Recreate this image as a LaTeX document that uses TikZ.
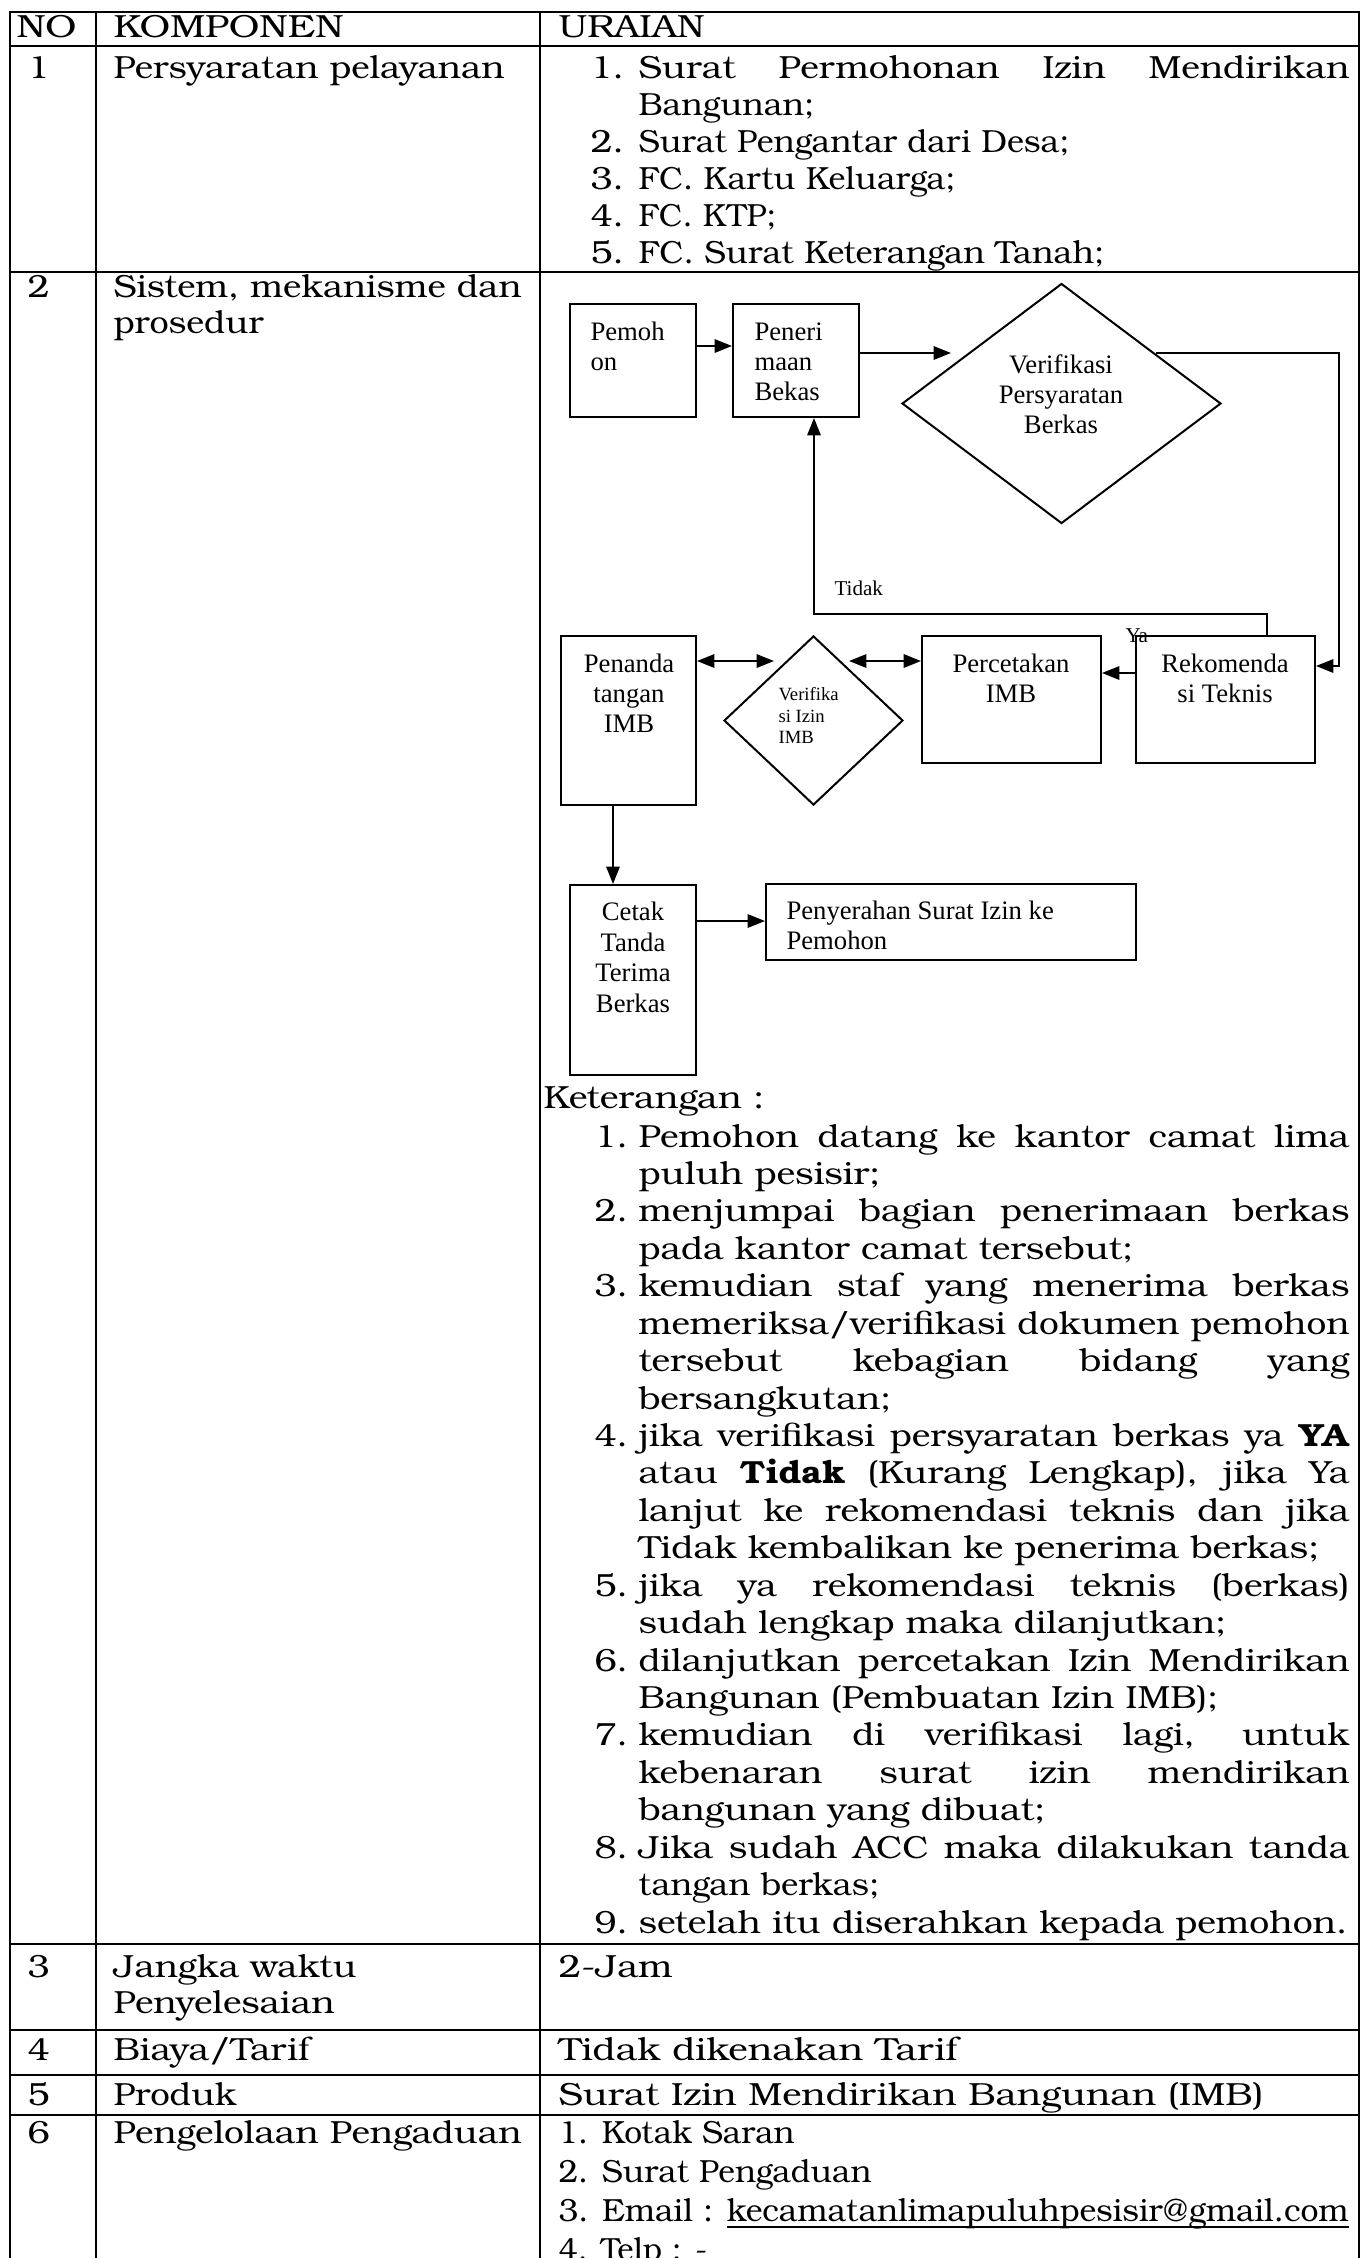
\documentclass[tikz,border=0pt]{standalone}
\usepackage{graphicx}
\usepackage{fontspec}
\setmainfont{texgyrebonum}[Extension=.otf,UprightFont=*-regular,BoldFont=*-bold,ItalicFont=*-italic,BoldItalicFont=*-bolditalic,FakeStretch=1.11]
\newfontfamily\tnr{Liberation Serif}
\usetikzlibrary{arrows.meta,shapes.geometric}
\tikzset{
  tab/.style={line width=1pt,line cap=rect},
  tx/.style={anchor=base west,inner sep=0pt,font=\fontsize{12}{14}\selectfont},
  box/.style={draw,line width=0.75pt,rectangle,inner sep=0pt},
  dia/.style={draw,line width=0.75pt,diamond,inner sep=0pt},
  fl/.style={anchor=base west,inner sep=0pt,font=\tnr\fontsize{10}{12}\selectfont},
  flc/.style={anchor=base,inner sep=0pt,font=\tnr\fontsize{10}{12}\selectfont},
  fls/.style={anchor=base west,inner sep=0pt,font=\tnr\fontsize{7}{8}\selectfont},
  lbl/.style={anchor=base west,inner sep=0pt,font=\tnr\fontsize{7.9}{9}\selectfont},
  arr/.style={line width=0.75pt,-{Triangle[length=6.5pt,width=5pt]}},
  darr/.style={line width=0.75pt,{Triangle[length=6.5pt,width=5pt]}-{Triangle[length=6.5pt,width=5pt]}},
}
\newdimen\pxu \pxu=0.375pt
\newdimen\jwid \jwid=266.625pt
\newcommand\JLine[1]{\setbox0\hbox{#1}\ifdim\wd0>\jwid\resizebox{\jwid}{\height}{\box0}\else\hbox to\jwid{#1}\fi}
\newcommand\TXT[4]{\node[tx] (#1) at (#2,#3) {#4};}
\newcommand\TW[5]{\node[tx] (#1) at (#2,#3) {\resizebox{#4\pxu}{\height}{#5}};}
\newcommand\JTX[4]{\node[tx] (#1) at (#2,#3) {\JLine{#4}};}
\newcommand\ulx[1]{\setbox2\hbox{#1}\rlap{\rule[-2.6pt]{\wd2}{0.6pt}}\box2}
\begin{document}
\begin{tikzpicture}[x=0.375pt,y=-0.375pt]
\useasboundingbox (0,0) rectangle (1364,2258);
\fill[white] (0,0) rectangle (1364,2258);
% table grid
\foreach \yy in {12,46,272,1944,2030,2075,2115} \draw[tab] (10,\yy) -- (1359,\yy);
\foreach \xx in {10,96,540,1359} \draw[tab] (\xx,12) -- (\xx,2258);
% header
\TW{h1}{16}{37}{60}{NO}
\TW{h2}{113}{37}{230}{KOMPONEN}
\TW{h3}{558}{37}{146}{URAIAN}
% row 1
\TXT{n1}{27}{78}{1}
\TW{k1}{113}{78}{391}{Persyaratan pelayanan}
\TXT{a1n}{590}{78}{1.}
\JTX{a1}{638}{78}{Surat Permohonan Izin Mendirikan}
\TW{a1b}{638}{115}{176}{Bangunan;}
\TXT{a2n}{590}{152}{2.}
\TW{a2}{638}{152}{431}{Surat Pengantar dari Desa;}
\TXT{a3n}{590}{189}{3.}
\TW{a3}{638}{189}{317}{FC. Kartu Keluarga;}
\TXT{a4n}{590}{226}{4.}
\TW{a4}{638}{226}{138}{FC. KTP;}
\TXT{a5n}{590}{263}{5.}
\TW{a5}{638}{263}{466}{FC. Surat Keterangan Tanah;}
% row 2
\TXT{n2}{27}{297}{2}
\TW{k2a}{113}{297}{408}{Sistem, mekanisme dan}
\TW{k2b}{113}{333}{150}{prosedur}
% flowchart boxes
\node[box,minimum width=47.25pt,minimum height=42.375pt] (pemohon) at (633,360.5) {};
\node[box,minimum width=47.25pt,minimum height=42.375pt] (penerima) at (796,360.5) {};
\node[dia,minimum width=119.6pt,minimum height=90pt] (verif) at (1061.5,403.5) {};
\node[box,minimum width=67.1pt,minimum height=47.6pt] (rekom) at (1225.5,699.5) {};
\node[box,minimum width=67.1pt,minimum height=47.6pt] (perc) at (1011.5,699.5) {};
\node[dia,minimum width=67.1pt,minimum height=63.4pt] (verif2) at (813.5,720.5) {};
\node[box,minimum width=50.6pt,minimum height=63.4pt] (penanda) at (628.5,720.5) {};
\node[box,minimum width=47.25pt,minimum height=71.25pt] (cetak) at (633,980) {};
\node[box,minimum width=138.75pt,minimum height=28.5pt] (penyer) at (951,922) {};
% helper coordinates
\coordinate (y346) at (0,346);
\coordinate (t1) at (951,353);
\coordinate (l1) at (1156,353);
\coordinate (l2) at (1339,353);
\coordinate (l3) at (1339,666);
\coordinate (y673) at (0,673);
\coordinate (td1) at (1267,614);
\coordinate (td2) at (814,614);
\coordinate (d1) at (849,661);
\coordinate (d2) at (774,661);
\coordinate (x613) at (613,0);
\coordinate (y921) at (0,921);
% connectors
\draw[arr] (pemohon.east |- y346) -- (penerima.west |- y346);
\draw[arr] (penerima.east |- t1) -- (t1);
\draw[arr] (l1) -- (l2) -- (l3) -- (rekom.east |- l3);
\draw[arr] (rekom.west |- y673) -- (perc.east |- y673);
\draw[arr] (rekom.north -| td1) -- (td1) -- (td2) -- (penerima.south -| td2);
\draw[darr] (d1) -- (perc.west |- d1);
\draw[darr] (penanda.east |- d2) -- (d2);
\draw[arr] (penanda.south -| x613) -- (cetak.north -| x613);
\draw[arr] (cetak.east |- y921) -- (penyer.west |- y921);
% flowchart texts
\node[fl] (tp1) at (590,340) {Pemoh};
\node[fl] (tp2) at (590,370) {on};
\node[fl] (tq1) at (754,340) {Peneri};
\node[fl] (tq2) at (754,370) {maan};
\node[fl] (tq3) at (754,400) {Bekas};
\node[flc] (tv1) at (1061,373) {Verifikasi};
\node[flc] (tv2) at (1061,403) {Persyaratan};
\node[flc] (tv3) at (1061,433) {Berkas};
\node[flc] (tc1) at (1011,672) {Percetakan};
\node[flc] (tc2) at (1011,702) {IMB};
\node[flc] (tr1) at (1225,672) {Rekomenda};
\node[flc] (tr2) at (1225,702) {si Teknis};
\node[flc] (tn1) at (629,672) {Penanda};
\node[flc] (tn2) at (629,702) {tangan};
\node[flc] (tn3) at (629,732) {IMB};
\node[fls] (ts1) at (778,700) {Verifika};
\node[fls] (ts2) at (778,722) {si Izin};
\node[fls] (ts3) at (778,743) {IMB};
\node[flc] (te1) at (633,920) {Cetak};
\node[flc] (te2) at (633,951) {Tanda};
\node[flc] (te3) at (633,981) {Terima};
\node[flc] (te4) at (633,1012) {Berkas};
\node[fl] (tf1) at (786,919) {Penyerahan Surat Izin ke};
\node[fl] (tf2) at (786,949) {Pemohon};
\node[lbl] (lt) at (834,595) {Tidak};
\node[lbl] (ly) at (1125,642) {Ya};
% keterangan
\TW{ket}{543}{1108}{221}{Keterangan :}
\TXT{i1n}{594}{1147}{1.}
\JTX{i1a}{638}{1147}{Pemohon datang ke kantor camat lima}
\TW{i1b}{638}{1184.4}{242}{puluh pesisir;}
\TXT{i2n}{594}{1221.9}{2.}
\JTX{i2a}{638}{1221.9}{menjumpai bagian penerimaan berkas}
\TW{i2b}{638}{1259.3}{495}{pada kantor camat tersebut;}
\TXT{i3n}{594}{1296.7}{3.}
\JTX{i3a}{638}{1296.7}{kemudian staf yang menerima berkas}
\JTX{i3b}{638}{1334.2}{memeriksa/verifikasi dokumen pemohon}
\JTX{i3c}{638}{1371.6}{tersebut kebagian bidang yang}
\TW{i3d}{638}{1409}{253}{bersangkutan;}
\TXT{i4n}{594}{1446.4}{4.}
\JTX{i4a}{638}{1446.4}{jika verifikasi persyaratan berkas ya \textbf{YA}}
\JTX{i4b}{638}{1483.9}{atau \textbf{Tidak} (Kurang Lengkap), jika Ya}
\JTX{i4c}{638}{1521.3}{lanjut ke rekomendasi teknis dan jika}
\TW{i4d}{638}{1558.7}{681}{Tidak kembalikan ke penerima berkas;}
\TXT{i5n}{594}{1596.2}{5.}
\JTX{i5a}{638}{1596.2}{jika ya rekomendasi teknis (berkas)}
\TW{i5b}{638}{1633.6}{588}{sudah lengkap maka dilanjutkan;}
\TXT{i6n}{594}{1671}{6.}
\JTX{i6a}{638}{1671}{dilanjutkan percetakan Izin Mendirikan}
\TW{i6b}{638}{1708.5}{580}{Bangunan (Pembuatan Izin IMB);}
\TXT{i7n}{594}{1745.9}{7.}
\JTX{i7a}{638}{1745.9}{kemudian di verifikasi lagi, untuk}
\JTX{i7b}{638}{1783.3}{kebenaran surat izin mendirikan}
\TW{i7c}{638}{1820.7}{407}{bangunan yang dibuat;}
\TXT{i8n}{594}{1858.2}{8.}
\JTX{i8a}{638}{1858.2}{Jika sudah ACC maka dilakukan tanda}
\TW{i8b}{638}{1895.6}{241}{tangan berkas;}
\TXT{i9n}{594}{1933}{9.}
\TW{i9a}{638}{1933}{709}{setelah itu diserahkan kepada pemohon.}
% rows 3-6
\TXT{n3}{27}{1977}{3}
\TW{k3a}{113}{1977}{243}{Jangka waktu}
\TW{k3b}{113}{2013}{221}{Penyelesaian}
\TW{u3}{558}{1977}{114}{2-Jam}
\TXT{n4}{27}{2060}{4}
\TW{k4}{113}{2060}{196}{Biaya/Tarif}
\TW{u4}{558}{2060}{399}{Tidak dikenakan Tarif}
\TXT{n5}{27}{2105}{5}
\TW{k5}{113}{2105}{123}{Produk}
\TW{u5}{558}{2105}{705}{Surat Izin Mendirikan Bangunan (IMB)}
\TXT{n6}{27}{2143}{6}
\TW{k6}{113}{2143}{408}{Pengelolaan Pengaduan}
\TW{u6a}{558}{2143}{236}{1. Kotak Saran}
\TW{u6b}{558}{2182}{313}{2. Surat Pengaduan}
\TW{u6c}{558}{2221}{790}{3. Email : \ulx{kecamatanlimapuluhpesisir@gmail.com}}
\TW{u6d}{558}{2260}{149}{4. Telp : -}
\end{tikzpicture}
\end{document}
